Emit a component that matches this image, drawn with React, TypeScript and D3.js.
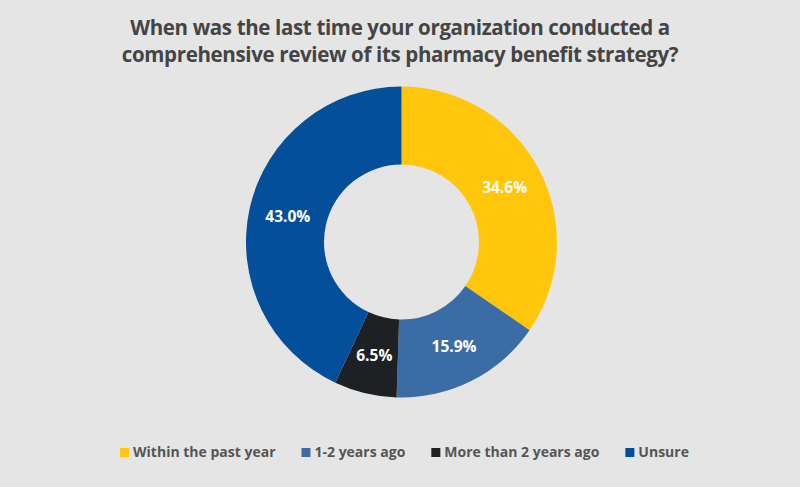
import React, { useEffect, useRef } from 'react';
import * as d3 from 'd3';

const categories = ['Within the past year', '1-2 years ago', 'More than 2 years ago', 'Unsure'];
const shares = [34.6, 15.9, 6.5, 43.0];
const colors = ['#FFC60B', '#3C6CA6', '#1D2124', '#034F9A'];
const titleLines = [
  'When was the last time your organization conducted a',
  'comprehensive review of its pharmacy benefit strategy?',
];

const W = 800;
const H = 487;
const FONT = '"Open Sans", sans-serif';

const App: React.FC = () => {
  const svgRef = useRef<SVGSVGElement>(null);

  useEffect(() => {
    const svg = d3.select(svgRef.current);
    svg.selectAll('*').remove();

    svg.append('rect').attr('width', W).attr('height', H).attr('fill', '#E5E5E5');

    // title
    svg.append('g')
      .selectAll('text')
      .data(titleLines)
      .join('text')
      .attr('x', W / 2)
      .attr('y', (_, i) => 34.5 + i * 27)
      .attr('text-anchor', 'middle')
      .attr('font-family', FONT)
      .attr('font-weight', 700)
      .attr('font-size', 20.5)
      .attr('letter-spacing', -0.35)
      .attr('fill', '#444444')
      .text(d => d);

    // donut
    const cx = 401.5;
    const cy = 242;
    const outerR = 155.5;
    const innerR = 77.5;

    const pie = d3.pie<number>().sort(null).value(d => d);
    const arcs = pie(shares);
    const arc = d3.arc<d3.PieArcDatum<number>>().innerRadius(innerR).outerRadius(outerR);

    const g = svg.append('g').attr('transform', `translate(${cx},${cy})`);
    g.selectAll('path')
      .data(arcs)
      .join('path')
      .attr('d', arc)
      .attr('fill', (_, i) => colors[i]);

    g.selectAll('text')
      .data(arcs)
      .join('text')
      .attr('transform', d => `translate(${arc.centroid(d)})`)
      .attr('text-anchor', 'middle')
      .attr('dy', '0.36em')
      .attr('font-family', FONT)
      .attr('font-weight', 700)
      .attr('font-size', 15.5)
      .attr('fill', '#ffffff')
      .text(d => `${d.data.toFixed(1)}%`);

    // legend
    const legend = svg.append('g');
    const sw = 9;
    const textGap = 4;
    const itemGap = 26;
    const items = legend.selectAll('g')
      .data(categories)
      .join('g');
    items.append('rect')
      .attr('y', 448)
      .attr('width', sw)
      .attr('height', sw)
      .attr('fill', (_, i) => colors[i]);
    const labels = items.append('text')
      .attr('x', sw + textGap)
      .attr('y', 457)
      .attr('font-family', FONT)
      .attr('font-weight', 700)
      .attr('font-size', 14)
      .attr('fill', '#555555')
      .text(d => d);

    const widths = labels.nodes().map(n => (n as SVGTextElement).getComputedTextLength());
    const total = d3.sum(widths, w => w + sw + textGap) + itemGap * (widths.length - 1);
    let x = 404.5 - total / 2;
    items.attr('transform', (_, i) => {
      const t = `translate(${x},0)`;
      x += sw + textGap + widths[i] + itemGap;
      return t;
    });
  }, []);

  return (
    <svg ref={svgRef} width={W} height={H} style={{ display: 'block', position: 'absolute', left: 0, top: 0 }} />
  );
};

export default App;
